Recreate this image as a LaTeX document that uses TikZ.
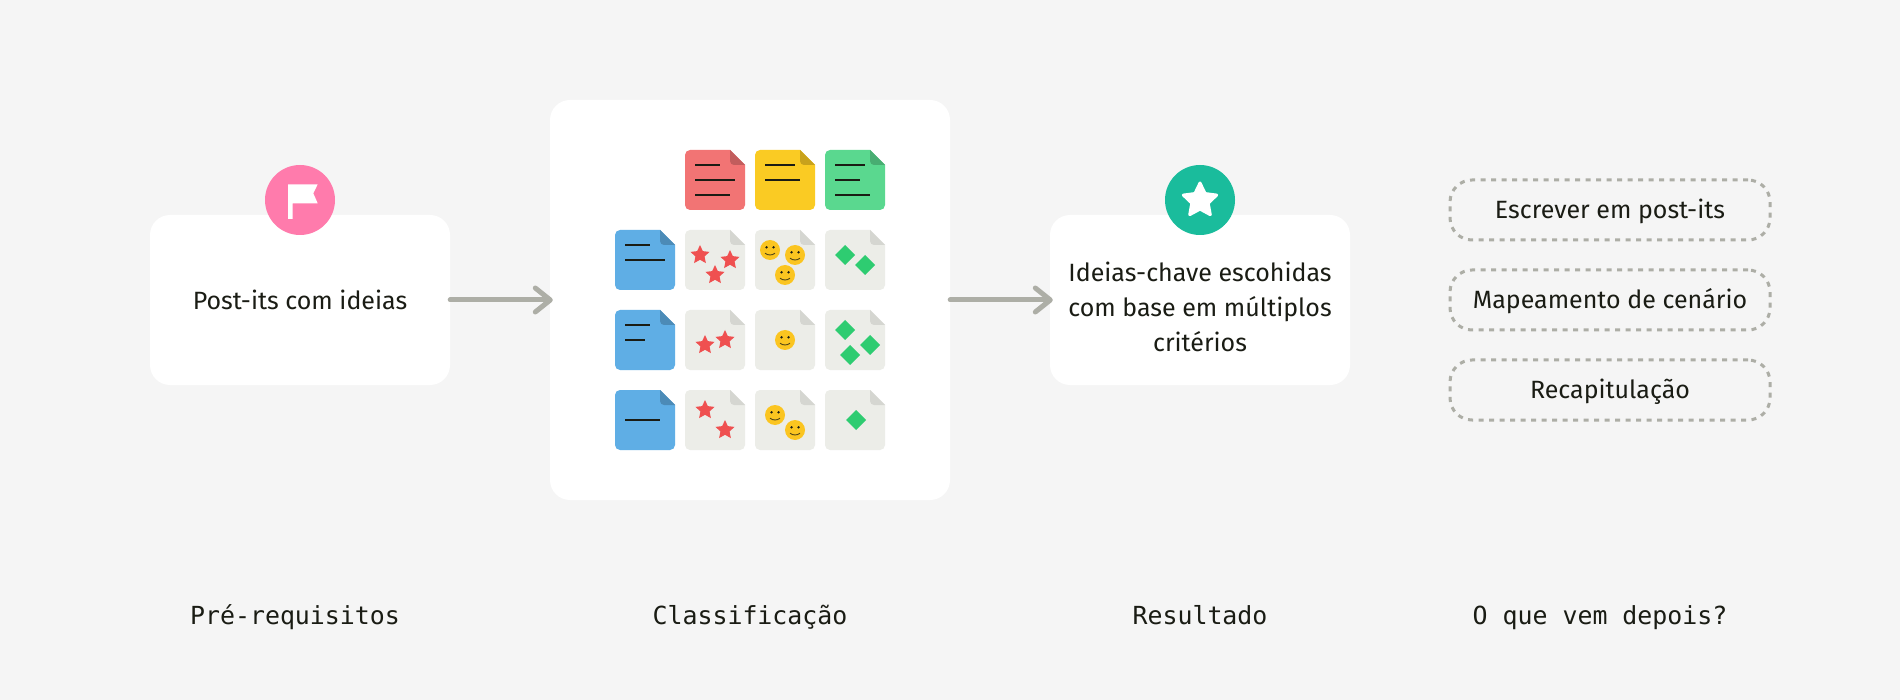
\documentclass[tikz,border=0pt]{standalone}
\usepackage{fontspec}
\setmainfont{Fira Sans}
\newfontfamily\labelmono{DejaVu Sans Mono}
\usetikzlibrary{arrows.meta}
\definecolor{bgc}{HTML}{F5F5F5}
\definecolor{inkc}{HTML}{1A1C14}
\definecolor{arrowc}{HTML}{ADAEA6}
\definecolor{redn}{HTML}{F27474}\definecolor{redf}{HTML}{C25D5D}
\definecolor{yeln}{HTML}{FACB23}\definecolor{yelf}{HTML}{C8A21C}
\definecolor{grnn}{HTML}{5AD88F}\definecolor{grnf}{HTML}{48AD72}
\definecolor{blun}{HTML}{5FAEE5}\definecolor{bluf}{HTML}{4C8BB7}
\definecolor{gryn}{HTML}{ECEDE8}\definecolor{gryf}{HTML}{D5D6D1}
\definecolor{starc}{HTML}{EF5050}
\definecolor{smilec}{HTML}{FBC520}
\definecolor{diac}{HTML}{2ECC71}
\definecolor{pinkc}{HTML}{FF7BAC}
\definecolor{tealc}{HTML}{1ABC9C}
\tikzset{
  card/.style={fill=white,rounded corners=20pt,inner sep=0pt,align=center,text=inkc,
    font=\fontsize{25}{35}\selectfont},
  badge/.style={circle,fill=#1,minimum size=70pt,inner sep=0pt},
  flow/.style={draw=arrowc,line width=5pt,line cap=round,
    -{Straight Barb[length=15pt,width=24pt,line width=5pt,round]}},
  pill/.style={draw=arrowc,line width=3pt,dash pattern=on 5pt off 5.5pt,rounded corners=22pt,
    minimum width=320pt,minimum height=60pt,inner sep=0pt,text=inkc,
    text height=20pt,text depth=3.4pt,
    font=\fontsize{25}{35}\selectfont},
  steplabel/.style={text=inkc,inner sep=0pt,font=\labelmono\fontsize{24.9}{30}\selectfont},
}
% note: x, y, body colour, fold colour
\newcommand{\notepaper}[4]{%
  \fill[#3] (#1+45,#2) [rounded corners=5pt] -- (#1,#2) -- (#1,#2+60) -- (#1+60,#2+60) -- (#1+60,#2+40) [sharp corners] -- (#1+60,#2+15) -- cycle;
  \fill[#4] (#1+45,#2) [rounded corners=4pt] -- (#1+45,#2+15) [sharp corners] -- (#1+60,#2+15) -- cycle;
}
\newcommand{\noteline}[3]{\draw[inkc,line width=2pt] (#1+10,#2) -- ++(#3,0);}
\newcommand{\starmark}[2]{\fill[starc,shift={(#1,#2)}] (-90:10) -- (-54:4.8) -- (-18:10) -- (18:4.8) -- (54:10) -- (90:4.8) -- (126:10) -- (162:4.8) -- (198:10) -- (234:4.8) -- cycle;}
\newcommand{\smiley}[2]{\begin{scope}[shift={(#1,#2)}]
  \fill[smilec] (0,0) circle (10);
  \fill[inkc] (-3.5,-2.7) circle (1.3) (3.5,-2.7) circle (1.3);
  \draw[inkc!75!smilec,line width=0.9pt] (-5,3.2) .. controls (-2,5.6) and (2,5.6) .. (5,3.2);
\end{scope}}
\newcommand{\diamondmark}[2]{\fill[diac] (#1,#2-10) -- (#1+10,#2) -- (#1,#2+10) -- (#1-10,#2) -- cycle;}
\begin{document}
\begin{tikzpicture}[x=1pt,y=-1pt]
\fill[bgc] (0,0) rectangle (1900,700);
\useasboundingbox (0,0) rectangle (1900,700);

% cards
\node[card,minimum width=300pt,minimum height=170pt] (pre) at (300,300) {Post-its com ideias};
\node[card,minimum width=400pt,minimum height=400pt] (sort) at (750,300) {};
\node[card,minimum width=300pt,minimum height=170pt] (res) at (1200,300) {};
\node[inner sep=0pt,align=center,text=inkc,font=\fontsize{25}{35}\selectfont] (restext) at (1200,306.5)
  {Ideias-chave escohidas\\com base em múltiplos\\critérios};

% badges
\node[badge=pinkc] (flagb) at (300,200) {};
\node[badge=tealc] (starb) at (1200,200) {};
\fill[white] (288,184.3) -- (317.7,184.3) -- (313.3,193.3) -- (317.7,203.3) -- (292.7,203.3) -- (292.7,219) -- (288,219) -- cycle;
\fill[white,draw=white,line width=3pt,line join=round,shift={(1200,200.5)}] (-90:17.5) -- (-54:8.6) -- (-18:17.5) -- (18:8.6) -- (54:17.5) -- (90:8.6) -- (126:17.5) -- (162:8.6) -- (198:17.5) -- (234:8.6) -- cycle;

% arrows
\draw[flow] (pre.east) -- ([xshift=3pt]sort.west);
\draw[flow] (sort.east) -- ([xshift=3pt]res.west);

% header notes
\notepaper{685}{150}{redn}{redf}
\noteline{685}{165}{25}\noteline{685}{180}{40}\noteline{685}{195}{35}
\notepaper{755}{150}{yeln}{yelf}
\noteline{755}{165}{30}\noteline{755}{180}{35}
\notepaper{825}{150}{grnn}{grnf}
\noteline{825}{165}{30}\noteline{825}{180}{25}\noteline{825}{195}{35}

% row 1
\notepaper{615}{230}{blun}{bluf}
\noteline{615}{245}{25}\noteline{615}{260}{40}
\notepaper{685}{230}{gryn}{gryf}
\starmark{700}{255}\starmark{730}{260}\starmark{715}{275}
\notepaper{755}{230}{gryn}{gryf}
\smiley{770}{250}\smiley{795}{255}\smiley{785}{275}
\notepaper{825}{230}{gryn}{gryf}
\diamondmark{845}{255}\diamondmark{865}{265}

% row 2
\notepaper{615}{310}{blun}{bluf}
\noteline{615}{325}{25}\noteline{615}{340}{20}
\notepaper{685}{310}{gryn}{gryf}
\starmark{705}{345}\starmark{725}{340}
\notepaper{755}{310}{gryn}{gryf}
\smiley{785}{340}
\notepaper{825}{310}{gryn}{gryf}
\diamondmark{845}{330}\diamondmark{870}{345}\diamondmark{850}{355}

% row 3
\notepaper{615}{390}{blun}{bluf}
\noteline{615}{420}{35}
\notepaper{685}{390}{gryn}{gryf}
\starmark{705}{410}\starmark{725}{430}
\notepaper{755}{390}{gryn}{gryf}
\smiley{775}{415}\smiley{795}{430}
\notepaper{825}{390}{gryn}{gryf}
\diamondmark{856}{420}

% next steps
\node[pill] (p1) at (1610,210) {Escrever em post-its};
\node[pill] (p2) at (1610,300) {Mapeamento de cenário};
\node[pill] (p3) at (1610,390) {Recapitulação};

% column labels
\node[steplabel,anchor=base] (l1) at (295,624) {Pré-requisitos};
\node[steplabel,anchor=base] (l2) at (750,624) {Classificação};
\node[steplabel,anchor=base] (l3) at (1200,624) {Resultado};
\node[steplabel,anchor=base] (l4) at (1600,624) {O que vem depois?};
\end{tikzpicture}
\end{document}
